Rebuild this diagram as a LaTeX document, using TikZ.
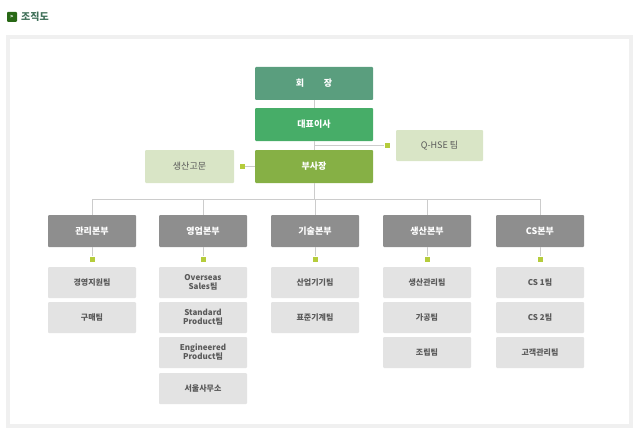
\documentclass[tikz,border=0pt]{standalone}
\usepackage{fontspec}
\setmainfont{Noto Sans CJK KR}
\begin{document}
\begin{tikzpicture}[x=1pt,y=-1pt,
 box/.style={minimum width=88pt,minimum height=32pt,inner sep=0pt,align=center,font=\bfseries\fontsize{9}{10}\selectfont,rounded corners=1pt},
 top/.style={box,minimum width=118pt,minimum height=33pt,text=white},
 side/.style={box,fill=sidec,text=black!65,font=\fontsize{9}{10}\selectfont},
 div/.style={box,fill=divc,text=white},
 team/.style={box,fill=teamc,minimum height=31pt,text=black!65,font=\bfseries\fontsize{8}{9}\selectfont},
 ln/.style={draw=black!20,line width=0.8pt},
 sq/.style={fill=sqc,minimum size=5pt,inner sep=0pt}]
\definecolor{sidec}{HTML}{D9E5C6}\definecolor{divc}{HTML}{8E8E8E}
\definecolor{teamc}{HTML}{E3E3E3}\definecolor{sqc}{HTML}{B5CC3C}
\definecolor{c1}{HTML}{5A9E7E}\definecolor{c2}{HTML}{47AD68}\definecolor{c3}{HTML}{86B045}
\useasboundingbox (0,0) rectangle (643,436);
\node[fill=c3!60!green!50!black,minimum size=10pt,inner sep=0pt,rounded corners=1pt,text=white,font=\bfseries\tiny] (ic) at (12,17) {>};
\node[anchor=west,inner sep=0pt,text=c1!70!black,font=\bfseries\fontsize{10}{11}\selectfont] (title) at (21,17) {조직도};
\draw[black!6,line width=4pt] (8,37) rectangle (631,426);
\node[top,fill=c1] (a) at (314,83.5) {회\hspace{2.2em}장};
\node[top,fill=c2] (b) at (314,124.5) {대표이사};
\node[top,fill=c3] (c) at (314,166.5) {부사장};
\node[side,minimum width=89pt,minimum height=33pt] (adv) at (189.5,166.5) {생산고문};
\node[side,minimum width=87pt,minimum height=31pt] (q) at (439.5,145.5) {Q-HSE 팀};
\node[sq] (sq1) at (387,145.5) {};
\node[sq] (sq2) at (242,166.5) {};
\coordinate (qj) at (314,145.5);
\draw[ln] (a) -- (b); \draw[ln] (b) -- (c);
\draw[ln] (qj) -- (sq1); \draw[ln] (sq2) -- (c);
\coordinate (bus) at (314,199);
\draw[ln] (c) -- (bus);
\draw[ln] (92,199) -- (540,199);
\foreach \n/\x/\t in {d1/92/관리본부,d2/203/영업본부,d3/315/기술본부,d4/427/생산본부,d5/540/CS본부}{
 \node[div] (\n) at (\x,231) {\t};
 \coordinate (\n t) at (\x,199);
 \node[sq] (\n s) at (\x,259) {};
 \draw[ln] (\n t) -- (\n); \draw[ln] (\n) -- (\n s);
}
\foreach \n/\x/\y/\t in {
 t11/92/282.5/경영지원팀, t12/92/317.5/구매팀,
 t21/203/282.5/{Overseas\\Sales팀}, t22/203/317.5/{Standard\\Product팀}, t23/203/352.5/{Engineered\\Product팀}, t24/203/388.5/서울사무소,
 t31/315/282.5/산업기기팀, t32/315/317.5/표준기계팀,
 t41/427/282.5/생산관리팀, t42/427/317.5/가공팀, t43/427/352.5/조립팀,
 t51/540/282.5/CS 1팀, t52/540/317.5/CS 2팀, t53/540/352.5/고객관리팀}{
 \node[team] (\n) at (\x,\y) {\t};
}
\end{tikzpicture}
\end{document}
